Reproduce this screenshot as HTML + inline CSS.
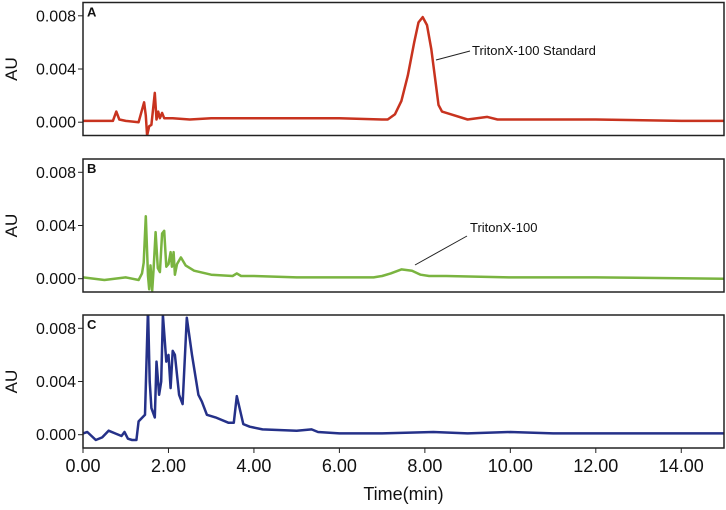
<!DOCTYPE html>
<html><head><meta charset="utf-8"><style>
body{margin:0;background:#fff;}
svg{display:block;font-family:"Liberation Sans",sans-serif;}
</style></head><body>
<svg id="chart" width="726" height="510" viewBox="0 0 726 510"></svg>
<script>
const xTicks=[0,2,4,6,8,10,12,14];
const xTickLabels=["0.00","2.00","4.00","6.00","8.00","10.00","12.00","14.00"];
const yTicks=[0,0.004,0.008];
const yTickLabels=["0.000","0.004","0.008"];
const panelLabels=["A","B","C"];
const timeA=[0,0.5,0.7,0.78,0.85,1.0,1.3,1.43,1.47,1.5,1.55,1.6,1.68,1.72,1.76,1.8,1.85,1.9,2.1,2.5,3,4,5,6,7,7.13,7.3,7.45,7.6,7.75,7.85,7.95,8.05,8.15,8.25,8.32,8.4,8.6,9,9.46,9.7,10,12,14,15];
const valA=[0.0001,0.0001,0.0001,0.0008,0.0002,0.0001,0,0.0015,0.0005,-0.001,-0.0003,-0.0002,0.0022,0.0002,0.0008,0.0003,0.0007,0.0003,0.0003,0.0002,0.0003,0.0003,0.0003,0.0003,0.0002,0.0002,0.0006,0.0016,0.0035,0.006,0.0075,0.0079,0.0073,0.0055,0.003,0.0013,0.0008,0.0006,0.0002,0.0004,0.0002,0.0002,0.0002,0.0001,0.0001];
const timeB=[0,0.5,1,1.3,1.38,1.42,1.47,1.52,1.55,1.58,1.62,1.65,1.7,1.75,1.8,1.85,1.9,1.95,2.0,2.05,2.08,2.12,2.15,2.2,2.29,2.4,2.6,3,3.5,3.6,3.7,4,5,6,6.8,7.0,7.2,7.45,7.7,7.9,8.1,8.5,10,12,15];
const valB=[0.0001,-0.0001,0.0001,-0.0001,0.0004,0.0012,0.0047,0.0002,-0.0008,0.001,-0.0009,0.0006,0.0035,0.0008,0.0005,0.0034,0.0036,0.0009,0.0011,0.002,0.0009,0.002,0.0003,0.0011,0.0016,0.001,0.0006,0.0003,0.0002,0.0004,0.0002,0.0002,0.0001,0.0001,0.0001,0.0002,0.0004,0.0007,0.0006,0.0003,0.0002,0.0002,0.0001,0.0001,0];
const timeC=[0,0.1,0.3,0.45,0.6,0.75,0.9,0.97,1.05,1.15,1.25,1.3,1.45,1.52,1.56,1.6,1.68,1.72,1.78,1.83,1.87,1.95,2.0,2.05,2.1,2.15,2.25,2.33,2.43,2.55,2.7,2.78,2.9,3.1,3.4,3.53,3.6,3.75,3.9,4.2,5,5.35,5.5,6,7,8.2,9,10,11,12,13,14,15];
const valC=[0.0001,0.0002,-0.0004,-0.0002,0.0003,0.0001,-0.0001,0.0002,-0.0003,-0.0004,-0.0004,0.001,0.0015,0.0095,0.004,0.002,0.0013,0.0055,0.003,0.004,0.009,0.0055,0.006,0.0035,0.0063,0.006,0.003,0.0023,0.0088,0.006,0.003,0.0025,0.0015,0.0013,0.0009,0.0009,0.0029,0.0008,0.0006,0.0004,0.0003,0.0004,0.0002,0.0001,0.0001,0.0002,0.0001,0.0002,0.0001,0.0001,0.0001,0.0001,0.0001];
const series=[{t:timeA,v:valA,c:"#c8331f"},{t:timeB,v:valB,c:"#7ab440"},{t:timeC,v:valC,c:"#253189"}];
const panelTops=[2.5,159,315];
const PH=133,X0=83,X1=724;
const NS="http://www.w3.org/2000/svg";
const svg=document.getElementById('chart');
function mk(tag,attrs,parent){const e=document.createElementNS(NS,tag);for(const k in attrs)e.setAttribute(k,attrs[k]);(parent||svg).appendChild(e);return e;}
const xs=t=>X0+(t/15)*(X1-X0);
panelTops.forEach((top,i)=>{
  const ys=v=>top+PH-(v+0.001)/0.010*PH;
  const g=mk('g',{});
  
  
  const cp=mk('clipPath',{id:'cp'+i},g);
  mk('rect',{x:X0,y:top,width:X1-X0,height:PH},cp);
  const d=series[i].t.map((t,j)=>(j?'L':'M')+xs(t).toFixed(1)+','+ys(series[i].v[j]).toFixed(1)).join('');
  const p=mk('path',{d:d,fill:'none',stroke:series[i].c,'stroke-width':2.5,'stroke-linejoin':'round','clip-path':'url(#cp'+i+')'},g);
  
  
  const fr=mk('rect',{x:X0,y:top,width:X1-X0,height:PH,fill:'none',stroke:'#222','stroke-width':1.5},g);
  
  
  yTicks.forEach((v,k)=>{
    const y=ys(v);
    mk('line',{x1:X0-5,x2:X0,y1:y,y2:y,stroke:'#222','stroke-width':1},g);
    const tx=mk('text',{x:X0-7,y:y+5.5,'text-anchor':'end','font-size':16,fill:'#111'},g);
    tx.textContent=yTickLabels[k];
    
    
  });
  const yl=mk('text',{x:17,y:top+PH/2,'text-anchor':'middle','font-size':17,fill:'#111',transform:'rotate(-90 17 '+(top+PH/2)+')'},g);
  yl.textContent='AU';
  
  
  const pl=mk('text',{x:X0+4,y:top+14,'font-size':13,'font-weight':'bold',fill:'#111'},g);
  pl.textContent=panelLabels[i];
  
  
});
mk('line',{x1:436,y1:60,x2:470,y2:51,stroke:'#222','stroke-width':1});
const a1=mk('text',{x:472,y:55,'font-size':13,fill:'#111'});
a1.textContent='TritonX-100 Standard';


mk('line',{x1:415,y1:265,x2:467,y2:236,stroke:'#222','stroke-width':1});
const a2=mk('text',{x:470,y:232,'font-size':13,fill:'#111'});
a2.textContent='TritonX-100';


const bottom=panelTops[2]+PH;
xTicks.forEach((t,k)=>{
  const x=xs(t);
  mk('line',{x1:x,x2:x,y1:bottom,y2:bottom+5,stroke:'#222','stroke-width':1});
  const tx=mk('text',{x:x,y:bottom+24,'text-anchor':'middle','font-size':18,fill:'#111'});
  tx.textContent=xTickLabels[k];
  
  
});
const xt=mk('text',{x:(X0+X1)/2,y:500,'text-anchor':'middle','font-size':18,fill:'#111'});
xt.textContent='Time(min)';


</script>
</body></html>
